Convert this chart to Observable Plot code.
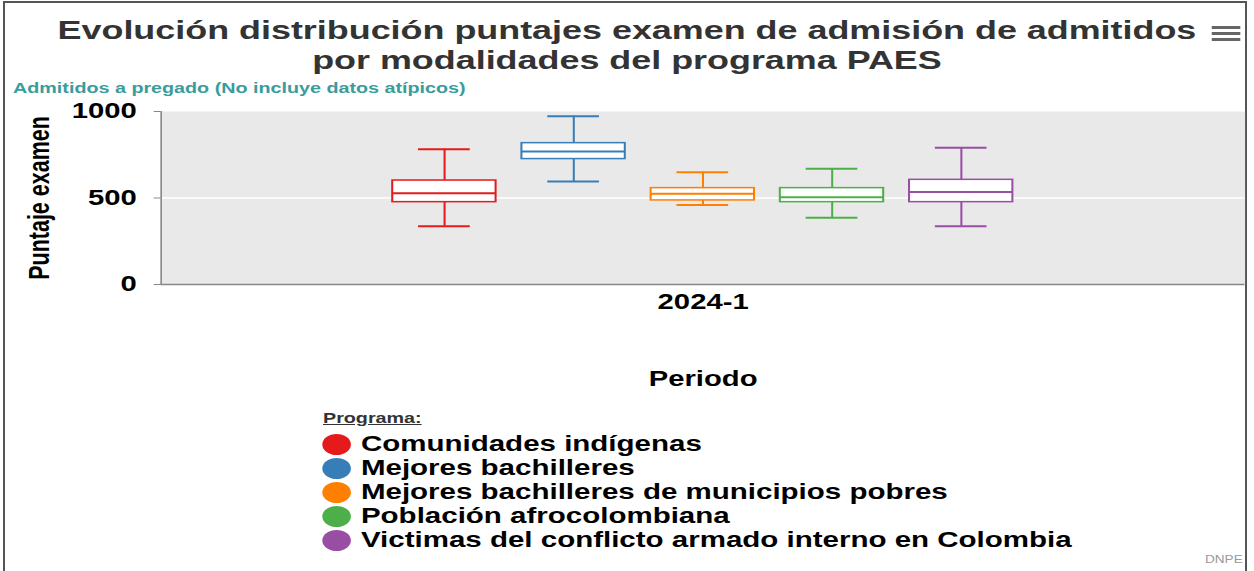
<!DOCTYPE html>
<html>
<head>
<meta charset="utf-8">
<script src="https://cdn.jsdelivr.net/npm/d3@7"></script>
<script src="https://cdn.jsdelivr.net/npm/@observablehq/plot@0.6"></script>
<style>
  html, body { margin: 0; padding: 0; background: #fff; }
  #outer { position: relative; width: 1254px; height: 571px; overflow: hidden; background: #fff; font-family: "Liberation Sans", Arial, sans-serif; }
  #border { position: absolute; left: 3px; top: 1px; width: 1244px; height: 620px; border: 2px solid #555; box-sizing: border-box; }
  #stage { position: absolute; left: 0; top: 0; width: 922px; height: 571px; transform: scaleX(1.36); transform-origin: 0 0; }
  #title { position: absolute; left: 0; top: 15px; width: 922px; text-align: center; font-size: 26.4px; font-weight: bold; line-height: 30px; color: #333; }
  #burger { position: absolute; left: 891px; top: 26px; width: 21px; }
  #burger div { height: 3px; background: #666; margin-bottom: 3px; }
  #subtitle { position: absolute; left: 9.6px; top: 79px; font-size: 14.5px; font-weight: bold; line-height: 18px; color: #3a9c9c; white-space: nowrap; }
  #chart { position: absolute; left: 0; top: 90px; }
  #chart svg text { font-family: "Liberation Sans", Arial, sans-serif; font-weight: bold; font-size: 21.5px; fill: #000; }
  #legtitle { position: absolute; left: 237.5px; top: 409px; font-size: 14.5px; font-weight: bold; line-height: 18px; color: #333; text-decoration: underline; }
  #legend { position: absolute; left: 237px; top: 432px; }
  .item { position: relative; height: 24px; line-height: 24px; font-size: 21.7px; font-weight: bold; color: #000; white-space: nowrap; padding-left: 28.4px; }
  .dot { position: absolute; left: 0; top: 1.5px; width: 21px; height: 21px; border-radius: 50%; }
  #credit { position: absolute; left: 886px; top: 554px; font-size: 10px; color: #999; }
</style>
</head>
<body>
<div id="outer">
  <div id="border"></div>
  <div id="stage">
    <div id="title">Evolución distribución puntajes examen de admisión de admitidos<br>por modalidades del programa PAES</div>
    <div id="burger"><div></div><div></div><div></div></div>
    <div id="subtitle">Admitidos a pregado (No incluye datos atípicos)</div>
    <div id="chart"></div>
    <div id="legtitle">Programa:</div>
    <div id="legend"></div>
    <div id="credit">DNPE</div>
  </div>
</div>
<script>
const periods = ["2024-1"];
const programs = [
  "Comunidades indígenas",
  "Mejores bachilleres",
  "Mejores bachilleres de municipios pobres",
  "Población afrocolombiana",
  "Victimas del conflicto armado interno en Colombia"
];
const colors = ["#e41a1c", "#377eb8", "#ff7f00", "#4daf4a", "#984ea3"];
const minVals = [337, 595, 459, 386, 337];
const q1Vals  = [476, 725, 486, 476, 476];
const medVals = [527, 769, 525, 505, 534];
const q3Vals  = [601, 817, 557, 557, 605];
const maxVals = [782, 973, 649, 669, 790];
const yTicks = [0, 500, 1000];
const yLabel = "Puntaje examen";
const xLabel = "Periodo";

const rows = programs.map((p, i) => ({
  period: periods[0], program: p,
  min: minVals[i], q1: q1Vals[i], median: medVals[i], q3: q3Vals[i], max: maxVals[i]
}));

const W = 922;
const chart = Plot.plot({
  width: W,
  height: 310,
  marginLeft: 117.6,
  marginRight: 7.3,
  marginTop: 21,
  marginBottom: 116,
  fx: { domain: periods, padding: 0, label: xLabel },
  x: { domain: programs, paddingInner: 0.2, paddingOuter: 1.769, axis: null },
  y: { domain: [0, 1000] },
  color: { domain: programs, range: colors },
  marks: [
    Plot.frame({ fill: "#e9e9e9", stroke: null }),
    Plot.ruleY([500], { stroke: "#fff", strokeWidth: 1.5 }),
    Plot.axisY({ ticks: yTicks, tickFormat: (d) => String(d), tickSize: 5, tickPadding: 13, stroke: "#888", label: yLabel, labelAnchor: "center", labelArrow: "none", labelOffset: 98 }),
    Plot.axisFx({ anchor: "bottom", tickSize: 0, tickPadding: 9, label: xLabel, labelAnchor: "center", labelOffset: 101 }),
    Plot.ruleY([0], { stroke: "#888", strokeWidth: 1.5 }),
    Plot.frame({ anchor: "left", stroke: "#888", strokeWidth: 1.2 }),
    Plot.ruleX(rows, { fx: "period", x: "program", y1: "q3", y2: "max", stroke: "program", strokeWidth: 1.5 }),
    Plot.ruleX(rows, { fx: "period", x: "program", y1: "min", y2: "q1", stroke: "program", strokeWidth: 1.5 }),
    Plot.barY(rows, { fx: "period", x: "program", y1: "q1", y2: "q3", fill: "#fff", stroke: "program", strokeWidth: 1.5 }),
    Plot.tickY(rows, { fx: "period", x: "program", y: "median", stroke: "program", strokeWidth: 2 }),
    Plot.tickY(rows, { fx: "period", x: "program", y: "max", stroke: "program", strokeWidth: 2, insetLeft: 19, insetRight: 19 }),
    Plot.tickY(rows, { fx: "period", x: "program", y: "min", stroke: "program", strokeWidth: 2, insetLeft: 19, insetRight: 19 })
  ]
});
document.getElementById("chart").appendChild(chart);

const legend = document.getElementById("legend");
programs.forEach((p, i) => {
  const item = document.createElement("div");
  item.className = "item";
  const dot = document.createElement("span");
  dot.className = "dot";
  dot.style.background = colors[i];
  item.appendChild(dot);
  item.appendChild(document.createTextNode(p));
  legend.appendChild(item);
});
</script>
</body>
</html>
